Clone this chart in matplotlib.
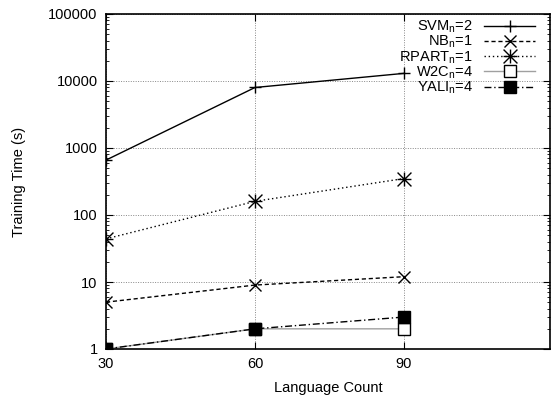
import numpy as np
import matplotlib
matplotlib.use('Agg')
import matplotlib.pyplot as plt
from matplotlib.path import Path

plt.rcParams['font.family'] = ['Liberation Sans', 'DejaVu Sans']
plt.rcParams['mathtext.fontset'] = 'custom'
plt.rcParams['mathtext.rm'] = 'Liberation Sans'
plt.rcParams['mathtext.it'] = 'Liberation Sans'

# data
lang_count = [30, 60, 90]
svm = [660, 8000, 13000]
nb = [5, 9, 12]
rpart = [44, 160, 350]
w2c = [1, 2, 2]
yali = [1, 2, 3]
labels = ['SVM$_\\mathrm{n}$=2', 'NB$_\\mathrm{n}$=1', 'RPART$_\\mathrm{n}$=1',
          'W2C$_\\mathrm{n}$=4', 'YALI$_\\mathrm{n}$=4']

# gnuplot style asterisk (+ and x overlaid)
star = Path([(-1, 0), (1, 0), (0, -1), (0, 1), (-1, -1), (1, 1), (-1, 1), (1, -1)],
            [Path.MOVETO, Path.LINETO] * 4)

fs = 10.5
fig = plt.figure(figsize=(5.51, 4.0), dpi=100)
ax = fig.add_axes([106 / 551, 51 / 400, 444 / 551, 335 / 400])

ax.plot(lang_count, svm, color='black', lw=1, marker='+', ms=9, mew=1, label=labels[0])
ax.plot(lang_count, nb, color='black', lw=1, ls=(0, (3, 2)), marker='x', ms=8, mew=1, label=labels[1])
ax.plot(lang_count, rpart, color='black', lw=1, ls=(0, (1, 2)), marker=star, ms=10, mew=1, label=labels[2])
ax.plot(lang_count, w2c, color='#a0a0a0', lw=1, marker='s', ms=9, mfc='white', mec='black', mew=1, label=labels[3])
ax.plot(lang_count, yali, color='black', lw=1, ls=(0, (5, 2, 1, 2)), marker='s', ms=9, mfc='black', mec='black', label=labels[4])

ax.set_yscale('log')
ax.set_ylim(1, 100000)
ax.set_xlim(30, 119.4)
ax.set_xticks(lang_count)
ax.set_yticks([1, 10, 100, 1000, 10000, 100000])
ax.set_yticklabels(['1', '10', '100', '1000', '10000', '100000'])
ax.tick_params(which='both', direction='in', top=True, right=True, labelsize=fs, pad=6)
ax.tick_params(which='major', length=5)
ax.tick_params(which='minor', length=2.5)
ax.tick_params(axis='x', which='minor', bottom=False, top=False)
ax.grid(True, which='major', color='#888888', ls=(0, (1, 1.5)), lw=0.7)
for s in ax.spines.values():
    s.set_linewidth(1.2)

ax.set_xlabel('Language Count', fontsize=fs, labelpad=7)
ax.set_ylabel('Training Time (s)', fontsize=fs, labelpad=16)

ax.legend(loc='upper right', frameon=False, markerfirst=False, fontsize=fs,
          handlelength=3.5, handletextpad=0.8, labelspacing=-0.08,
          borderaxespad=0.2, bbox_to_anchor=(0.987, 1.012))

fig.savefig('out.png', dpi=100)
